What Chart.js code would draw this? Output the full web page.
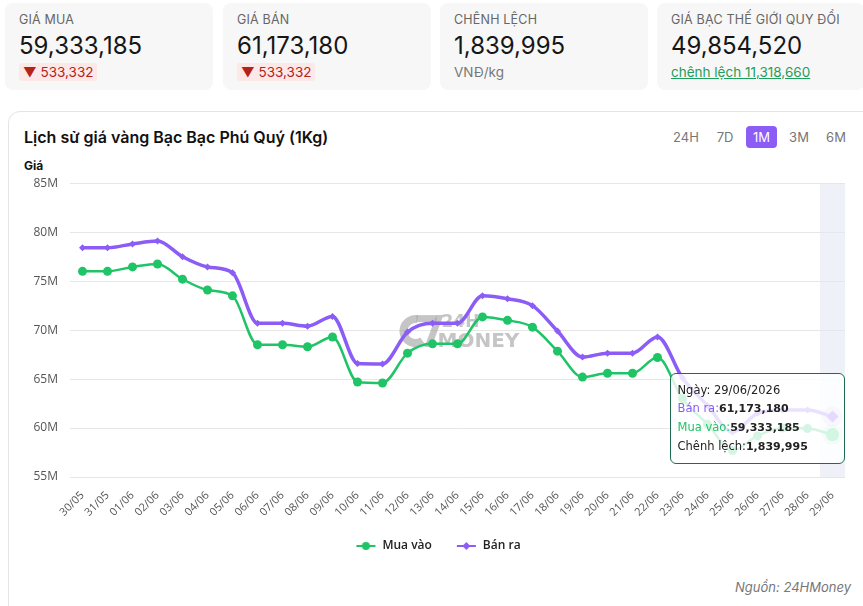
<!DOCTYPE html>
<html>
<head>
<meta charset="utf-8">
<script src="https://cdn.jsdelivr.net/npm/chart.js@4.4.0/dist/chart.umd.min.js"></script>
<style>
body{margin:0;width:863px;height:606px;overflow:hidden;background:#fff;font-family:Inter,"Noto Sans",sans-serif;position:relative;color:#111}
.card{position:absolute;top:3px;width:208px;height:87px;background:#f7f7f7;border-radius:8px}
.card .lbl{position:absolute;left:14px;top:9px;font-size:12.5px;line-height:16px;color:#666;letter-spacing:.2px}
.card .val{position:absolute;left:14px;top:29px;font-size:24px;line-height:28px;color:#161616}
.card .sub{position:absolute;left:14px;top:60px;font-size:13.5px;line-height:18px;color:#777}
.badge{display:inline-block;background:#fde8e8;color:#b42318;padding:0 4px;border-radius:3px}
.link{color:#1f9d5c;text-decoration:underline}
.panel{position:absolute;left:8px;top:111px;width:870px;height:520px;border:1px solid #e4e4e4;border-radius:12px}
.title{position:absolute;left:24px;top:126px;font-size:16px;line-height:22px;font-weight:600;color:#111}
.rng{position:absolute;top:126px;height:22px;line-height:22px;font-size:13px;color:#777;text-align:center}
.rng.on{background:#8b5cf6;color:#fff;border-radius:4px}
.ylab{position:absolute;left:24px;top:159px;font-size:12px;line-height:14px;font-weight:700;color:#111}
.src{position:absolute;right:12px;top:578px;font-size:13px;line-height:18px;font-style:italic;color:#777}
#wrap{position:absolute;left:24px;top:164px;width:830px;height:398px}
#tip{position:absolute;opacity:0;pointer-events:none;width:175px;box-sizing:border-box;padding:7px 7px;background:rgba(255,255,255,0.82);border:1px solid #1f6b50;border-radius:6px;font-family:"DejaVu Sans",sans-serif;font-size:11.5px;line-height:18px;color:#222;white-space:nowrap}
#tip b{color:#222;font-size:11px}
</style>
</head>
<body>
<div class="card" style="left:5px"><div class="lbl">GIÁ MUA</div><div class="val">59,333,185</div><div class="sub"><span class="badge">▼ 533,332</span></div></div>
<div class="card" style="left:223px"><div class="lbl">GIÁ BÁN</div><div class="val">61,173,180</div><div class="sub"><span class="badge">▼ 533,332</span></div></div>
<div class="card" style="left:440px"><div class="lbl">CHÊNH LỆCH</div><div class="val">1,839,995</div><div class="sub">VNĐ/kg</div></div>
<div class="card" style="left:657px"><div class="lbl">GIÁ BẠC THẾ GIỚI QUY ĐỔI</div><div class="val">49,854,520</div><div class="sub"><span class="link">chênh lệch 11,318,660</span></div></div>

<div class="panel"></div>
<div class="title">Lịch sử giá vàng Bạc Bạc Phú Quý (1Kg)</div>
<div class="rng" style="left:672px;width:28px">24H</div>
<div class="rng" style="left:713px;width:24px">7D</div>
<div class="rng on" style="left:746px;width:31px">1M</div>
<div class="rng" style="left:786px;width:26px">3M</div>
<div class="rng" style="left:823px;width:26px">6M</div>
<div class="ylab">Giá</div>
<div id="wrap"><canvas id="lineGia"></canvas><div id="tip"></div></div>
<div class="src">Nguồn: 24HMoney</div>

<script>
// du lieu
var year = "2026";
var labels = [
    "30/05", "31/05", "01/06", "02/06", "03/06", "04/06", "05/06", "06/06",
    "07/06", "08/06", "09/06", "10/06", "11/06", "12/06", "13/06", "14/06",
    "15/06", "16/06", "17/06", "18/06", "19/06", "20/06", "21/06", "22/06",
    "23/06", "24/06", "25/06", "26/06", "27/06", "28/06", "29/06",
];
var muaVao = [
    76000000, 76000000, 76450000, 76750000, 75200000, 74100000, 73500000, 68500000,
    68500000, 68300000, 69300000, 64700000, 64600000, 67650000, 68600000, 68600000,
    71350000, 71000000, 70300000, 67850000, 65200000, 65600000, 65600000, 67200000,
    63000000, 60400000, 57700000, 59200000, 60000000, 59950000, 59333185,
];
var banRa = [
    78400000, 78400000, 78800000, 79100000, 77500000, 76450000, 75850000, 70700000,
    70700000, 70400000, 71400000, 66600000, 66550000, 69800000, 70700000, 70700000,
    73500000, 73200000, 72500000, 69900000, 67250000, 67650000, 67650000, 69300000,
    65100000, 62300000, 59600000, 61500000, 61850000, 61850000, 61173180,
];
var yMin = 55000000;
var yMax = 85000000;
var yStep = 5000000;

var green = "#1fc466";
var purple = "#8b5cf6";

function fmt(v) {
    return v.toLocaleString("en-US");
}

// icon cho legend (co khoang trong ben trai)
function legendIcon(color, diamond) {
    var c = document.createElement("canvas");
    c.width = 28;
    c.height = 10;
    var g = c.getContext("2d");
    g.strokeStyle = color;
    g.fillStyle = color;
    g.lineWidth = 2;
    g.beginPath();
    g.moveTo(8, 5);
    g.lineTo(27, 5);
    g.stroke();
    g.beginPath();
    if (diamond) {
        g.moveTo(17.5, 1); g.lineTo(21.5, 5); g.lineTo(17.5, 9); g.lineTo(13.5, 5);
    } else {
        g.arc(17.5, 5, 4, 0, Math.PI * 2);
    }
    g.fill();
    return c;
}

// vung hover + watermark + halo
var nenPlugin = {
    id: "nen",
    beforeDatasetsDraw: function (chart) {
        var ctx = chart.ctx, a = chart.chartArea;
        var cx = (a.left + a.right) / 2, cy = (a.top + a.bottom) / 2;
        ctx.save();
        ctx.fillStyle = "rgba(150,150,150,0.55)";
        ctx.strokeStyle = "rgba(150,150,150,0.55)";
        ctx.lineWidth = 8;
        ctx.beginPath();
        ctx.arc(cx - 42, cy + 1, 12, Math.PI * 0.3, Math.PI * 1.55);
        ctx.stroke();
        ctx.fillRect(cx - 41, cy - 15, 20, 7);
        ctx.beginPath();
        ctx.moveTo(cx - 21, cy - 15); ctx.lineTo(cx - 14, cy - 15);
        ctx.lineTo(cx - 26, cy + 17); ctx.lineTo(cx - 33, cy + 17);
        ctx.fill();
        ctx.font = "bold 17px 'DejaVu Sans'";
        ctx.textBaseline = "alphabetic";
        ctx.fillText("24H", cx - 16, cy - 3);
        ctx.font = "bold 20px 'DejaVu Sans'";
        ctx.fillText("MONEY", cx - 20, cy + 17);
        ctx.restore();

        var act = chart.getActiveElements();
        if (!act.length) return;
        var x = act[0].element.x;
        var w = (a.right - a.left) / labels.length;
        ctx.save();
        ctx.fillStyle = "rgba(226,231,242,0.6)";
        ctx.fillRect(x - w / 2, a.top, w, a.bottom - a.top);
        act.forEach(function (e) {
            ctx.beginPath();
            ctx.fillStyle = e.datasetIndex === 0 ? "rgba(31,196,102,0.22)" : "rgba(139,92,246,0.22)";
            ctx.arc(e.element.x, e.element.y, 10, 0, Math.PI * 2);
            ctx.fill();
        });
        ctx.restore();
    },
};

function tipNgoai(context) {
    var tooltip = context.tooltip;
    var el = document.getElementById("tip");
    if (tooltip.opacity === 0) {
        el.style.opacity = 0;
        return;
    }
    var i = tooltip.dataPoints[0].dataIndex;
    el.innerHTML =
        "<div>Ngày: " + labels[i] + "/" + year + "</div>" +
        "<div><span style='color:" + purple + "'>Bán ra:</span><b>" + fmt(banRa[i]) + "</b></div>" +
        "<div><span style='color:" + green + "'>Mua vào:</span><b>" + fmt(muaVao[i]) + "</b></div>" +
        "<div>Chênh lệch:<b>" + fmt(banRa[i] - muaVao[i]) + "</b></div>";
    el.style.opacity = 1;
    el.style.left = (tooltip.caretX + 12 - el.offsetWidth) + "px";
    el.style.top = (tooltip.caretY - el.offsetHeight / 2 - 7) + "px";
}

var ctx = document.getElementById("lineGia").getContext("2d");
var lineGia = new Chart(ctx, {
    type: "line",
    data: {
        labels: labels,
        datasets: [
            {
                label: "Mua vào",
                data: muaVao,
                borderColor: green,
                backgroundColor: green,
                borderWidth: 2.5,
                pointStyle: "circle",
                pointRadius: 4.5,
                pointBorderWidth: 0,
                pointHoverRadius: 6.5,
                pointHoverBorderWidth: 0,
                cubicInterpolationMode: "monotone",
            },
            {
                label: "Bán ra",
                data: banRa,
                borderColor: purple,
                backgroundColor: purple,
                borderWidth: 3.5,
                pointStyle: "rectRot",
                pointRadius: 3.5,
                pointBorderWidth: 0,
                pointHoverRadius: 6,
                pointHoverBorderWidth: 0,
                cubicInterpolationMode: "monotone",
            },
        ],
    },
    options: {
        responsive: true,
        maintainAspectRatio: false,
        animation: false,
        interaction: { mode: "index", intersect: false },
        layout: { padding: { top: 0, right: 9, bottom: 0, left: 0 } },
        scales: {
            x: {
                offset: true,
                grid: { display: false },
                border: { display: false },
                ticks: {
                    color: "#555",
                    font: { family: "'Open Sans'", size: 11 },
                    minRotation: 45,
                    maxRotation: 45,
                    autoSkip: false,
                    padding: 4,
                },
            },
            y: {
                min: yMin,
                max: yMax,
                afterFit: function (s) { s.width = 46; },
                grid: { color: "#e6e6e6", drawTicks: false },
                border: { display: false },
                ticks: {
                    stepSize: yStep,
                    color: "#555",
                    padding: 12,
                    font: { family: "'Open Sans'", size: 12 },
                    callback: function (v) { return v / 1000000 + "M"; },
                },
            },
        },
        plugins: {
            legend: {
                position: "bottom",
                labels: {
                    usePointStyle: true,
                    pointStyleWidth: 28,
                    padding: 17,
                    color: "#222",
                    font: { family: "'Open Sans'", size: 12, weight: "600" },
                    generateLabels: function (chart) {
                        var items = Chart.defaults.plugins.legend.labels.generateLabels(chart);
                        items.forEach(function (it) {
                            it.pointStyle = legendIcon(it.datasetIndex === 0 ? green : purple, it.datasetIndex === 1);
                        });
                        return items;
                    },
                },
            },
            tooltip: {
                enabled: false,
                position: "average",
                external: tipNgoai,
            },
        },
    },
    plugins: [nenPlugin],
});

// hien tooltip ngay cuoi
var last = labels.length - 1;
lineGia.setActiveElements([{ datasetIndex: 0, index: last }, { datasetIndex: 1, index: last }]);
lineGia.tooltip.setActiveElements([{ datasetIndex: 0, index: last }, { datasetIndex: 1, index: last }], { x: 0, y: 0 });
lineGia.update();
</script>
</body>
</html>
